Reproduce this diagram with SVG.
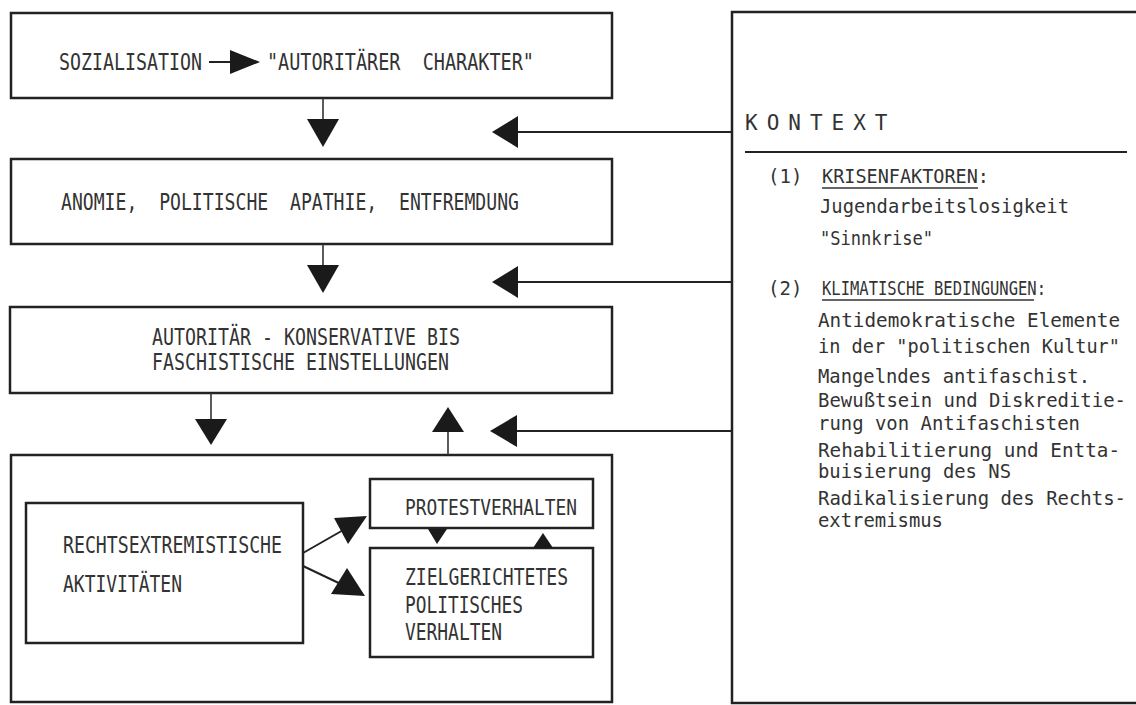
<svg xmlns="http://www.w3.org/2000/svg" width="1136" height="705" viewBox="0 0 1136 705">
<style>
.box{fill:none;stroke:#222;stroke-width:2.5}
.ln{fill:none;stroke:#222;stroke-width:2}
.stem{fill:none;stroke:#333;stroke-width:1.6}
.head{fill:#1a1a1a;stroke:none}
.t{font-family:"DejaVu Sans Mono","Liberation Mono",monospace;fill:#333;white-space:pre}
.L{font-size:23px}
.R{font-size:19px}
</style>
<rect width="1136" height="705" fill="#fff"/>
<g id="n-sozialisation">
<rect class="box" x="11" y="13" width="601" height="85"/>
<text class="t L" x="59" y="70" textLength="143" lengthAdjust="spacingAndGlyphs">SOZIALISATION</text>
<line class="ln" x1="209" y1="62" x2="232" y2="62"/>
<polygon class="head" points="230,50 260,62 230,74"/>
<text class="t L" x="267" y="70" textLength="267" lengthAdjust="spacingAndGlyphs">"AUTORITÄRER  CHARAKTER"</text>
</g>
<g id="n-anomie">
<rect class="box" x="11" y="159" width="601" height="85"/>
<text class="t L" x="61" y="210" textLength="458" lengthAdjust="spacingAndGlyphs">ANOMIE,  POLITISCHE  APATHIE,  ENTFREMDUNG</text>
</g>
<g id="n-einstellungen">
<rect class="box" x="10" y="307" width="602" height="86"/>
<text class="t L" x="152" y="345" textLength="308" lengthAdjust="spacingAndGlyphs">AUTORITÄR - KONSERVATIVE BIS</text>
<text class="t L" x="152" y="370" textLength="297" lengthAdjust="spacingAndGlyphs">FASCHISTISCHE EINSTELLUNGEN</text>
</g>
<g id="n-verhalten">
<rect class="box" x="11" y="455" width="601" height="247"/>
</g>
<g id="n-aktivitaeten">
<rect class="box" x="26" y="503" width="277" height="140"/>
<text class="t L" x="63" y="553" textLength="219" lengthAdjust="spacingAndGlyphs">RECHTSEXTREMISTISCHE</text>
<text class="t L" x="63" y="592" textLength="119" lengthAdjust="spacingAndGlyphs">AKTIVITÄTEN</text>
</g>
<g id="n-protest">
<rect class="box" x="370" y="479" width="223" height="49"/>
<text class="t" style="font-size:21px" x="405" y="515" textLength="172" lengthAdjust="spacingAndGlyphs">PROTESTVERHALTEN</text>
</g>
<g id="n-zielgerichtet">
<rect class="box" x="370" y="548" width="223" height="109"/>
<text class="t L" x="405" y="585" textLength="163" lengthAdjust="spacingAndGlyphs">ZIELGERICHTETES</text>
<text class="t L" x="405" y="613" textLength="118" lengthAdjust="spacingAndGlyphs">POLITISCHES</text>
<text class="t L" x="405" y="640" textLength="97" lengthAdjust="spacingAndGlyphs">VERHALTEN</text>
</g>
<g id="n-kontext">
<rect class="box" x="732" y="12" width="420" height="691"/>
<text class="t" style="font-size:21px;letter-spacing:9px" x="745" y="130">KONTEXT</text>
<line class="ln" x1="745" y1="152" x2="1127" y2="152"/>
<text class="t R" x="768" y="183">(1)</text>
<text class="t R" x="822" y="183" textLength="167" lengthAdjust="spacingAndGlyphs">KRISENFAKTOREN:</text>
<line class="stem" x1="822" y1="188" x2="978" y2="188"/>
<text class="t R" x="820" y="213" textLength="249" lengthAdjust="spacingAndGlyphs">Jugendarbeitslosigkeit</text>
<text class="t R" x="820" y="245" textLength="113" lengthAdjust="spacingAndGlyphs">"Sinnkrise"</text>
<text class="t R" x="768" y="295">(2)</text>
<text class="t R" x="822" y="295" textLength="224" lengthAdjust="spacingAndGlyphs">KLIMATISCHE BEDINGUNGEN:</text>
<line class="stem" x1="822" y1="300" x2="1034" y2="300"/>
<text class="t R" x="818" y="327" textLength="302" lengthAdjust="spacingAndGlyphs">Antidemokratische Elemente</text>
<text class="t R" x="818" y="353" textLength="302" lengthAdjust="spacingAndGlyphs">in der "politischen Kultur"</text>
<text class="t R" x="818" y="383" textLength="272" lengthAdjust="spacingAndGlyphs">Mangelndes antifaschist.</text>
<text class="t R" x="818" y="407" textLength="308" lengthAdjust="spacingAndGlyphs">Bewußtsein und Diskreditie-</text>
<text class="t R" x="818" y="430" textLength="262" lengthAdjust="spacingAndGlyphs">rung von Antifaschisten</text>
<text class="t R" x="818" y="457" textLength="302" lengthAdjust="spacingAndGlyphs">Rehabilitierung und Entta-</text>
<text class="t R" x="818" y="478" textLength="193" lengthAdjust="spacingAndGlyphs">buisierung des NS</text>
<text class="t R" x="818" y="505" textLength="308" lengthAdjust="spacingAndGlyphs">Radikalisierung des Rechts-</text>
<text class="t R" x="818" y="527" textLength="125" lengthAdjust="spacingAndGlyphs">extremismus</text>
</g>
<g id="connectors">
<line class="stem" x1="323" y1="98" x2="323" y2="120"/>
<polygon class="head" points="307,119 339,119 323,147"/>
<line class="stem" x1="323" y1="244" x2="323" y2="266"/>
<polygon class="head" points="307,265 339,265 323,293"/>
<line class="stem" x1="211" y1="393" x2="211" y2="420"/>
<polygon class="head" points="195,419 227,419 211,445"/>
<line class="stem" x1="448" y1="455" x2="448" y2="431"/>
<polygon class="head" points="432,432 464,432 448,407"/>
<line class="ln" x1="516" y1="132" x2="732" y2="132"/>
<polygon class="head" points="492,132 518,116 518,148"/>
<line class="ln" x1="516" y1="282" x2="732" y2="282"/>
<polygon class="head" points="492,282 518,266 518,298"/>
<line class="ln" x1="515" y1="431" x2="732" y2="431"/>
<polygon class="head" points="490,431 517,415 517,447"/>
<line class="ln" x1="303" y1="553" x2="345" y2="529"/>
<polygon class="head" points="367,516 348,544 334,518"/>
<line class="ln" x1="303" y1="566" x2="345" y2="586"/>
<polygon class="head" points="365,596 331,594 347,568"/>
<polygon class="head" points="428,529 447,529 437,544"/>
<polygon class="head" points="533,548 553,548 543,533"/>
</g>
</svg>
